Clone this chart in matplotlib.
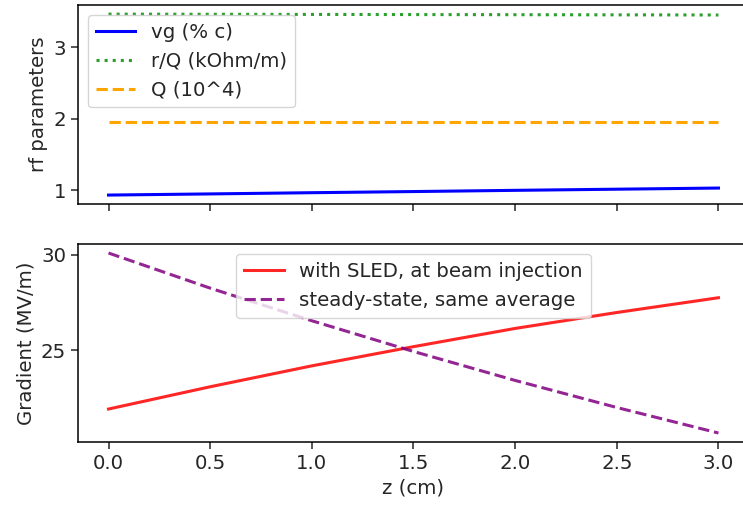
# Program name : plot.py
# rf parameters along the structure and the accelerating gradient profile
# Top panel : vg, r/Q and Q vs z
# Bottom panel : gradient with SLED vs steady-state gradient

import matplotlib.pyplot as plt

z = [0.0, 0.5, 1.0, 1.5, 2.0, 2.5, 3.0]

# rf parameters
vg = [0.934, 0.950, 0.967, 0.983, 1.000, 1.016, 1.032]
r_over_q = [3.463, 3.461, 3.459, 3.457, 3.455, 3.453, 3.451]
q_factor = [1.962, 1.962, 1.962, 1.962, 1.962, 1.962, 1.962]

# gradient in MV/m
grad_sled = [21.95, 23.11, 24.20, 25.20, 26.15, 26.98, 27.75]
grad_steady = [30.08, 28.25, 26.55, 24.95, 23.44, 22.03, 20.70]

fs = 14.2
plt.rcParams['font.size'] = fs
plt.rcParams['lines.linewidth'] = 2.2
plt.rcParams['axes.linewidth'] = 1.1
plt.rcParams['xtick.major.size'] = 5
plt.rcParams['ytick.major.size'] = 5
plt.rcParams['xtick.major.width'] = 1.1
plt.rcParams['ytick.major.width'] = 1.1
plt.rcParams['text.color'] = '#262626'
plt.rcParams['axes.labelcolor'] = '#262626'
plt.rcParams['xtick.color'] = '#262626'
plt.rcParams['ytick.color'] = '#262626'

fig = plt.figure(figsize=(7.43, 5.09), dpi=100)
ax1 = fig.add_axes([0.105, 0.599, 0.903, 0.391])
ax2 = fig.add_axes([0.105, 0.1316, 0.903, 0.389], sharex=ax1)

ax1.plot(z, vg, color='blue', label='vg (% c)')
ax1.plot(z, r_over_q, color='tab:green', linestyle=':', label='r/Q (kOhm/m)')
ax1.plot(z, q_factor, color='orange', linestyle='--', label='Q (10^4)')
ax1.set_ylabel('rf parameters')
ax1.set_yticks([1, 2, 3])
ax1.tick_params(labelbottom=False)
ax1.legend(loc='upper left')

ax2.plot(z, grad_sled, color='red', alpha=0.85,
         label='with SLED, at beam injection')
ax2.plot(z, grad_steady, color='purple', linestyle='--', alpha=0.85,
         label='steady-state, same average')
ax2.set_ylabel('Gradient (MV/m)')
ax2.set_xlabel('z (cm)')
ax2.set_yticks([25, 30])
ax2.legend(loc='upper center')

plt.savefig('out.png', dpi=100)
